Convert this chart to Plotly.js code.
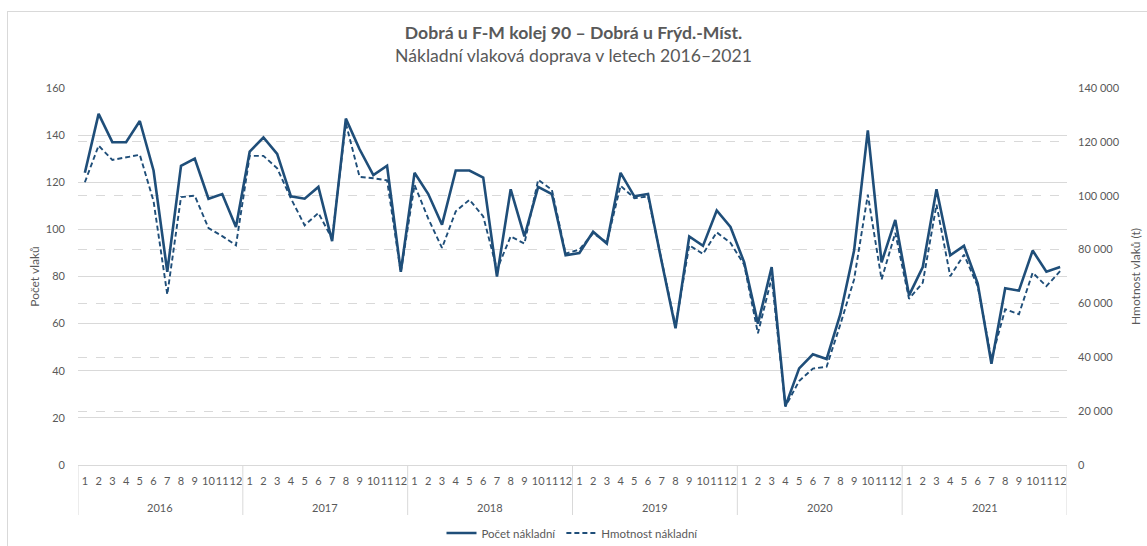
<!DOCTYPE html>
<html>
<head>
<meta charset="utf-8">
<script src="https://cdn.plot.ly/plotly-3.0.1.min.js"></script>
<style>
  html, body { margin: 0; padding: 0; background: #fff; }
  #wrap { position: relative; width: 1147px; height: 546px; overflow: hidden; }
  #frame { position: absolute; left: 7px; top: 11px; width: 1160px; height: 560px; border: 1px solid #d9d9d9; box-sizing: border-box; pointer-events: none; }
  #chart { position: absolute; left: 0; top: 0; width: 1147px; height: 546px; }
</style>
</head>
<body>
<div id="wrap">
  <div id="chart"></div>
  <div id="frame"></div>
</div>
<script>
const years = ["2016", "2017", "2018", "2019", "2020", "2021"];
const months = ["1","2","3","4","5","6","7","8","9","10","11","12"];

// Počet nákladní (left axis)
const pocet2016 = [124, 149, 137, 137, 146, 125, 82, 127, 130, 113, 115, 101];
const pocet2017 = [133, 139, 132, 114, 113, 118, 95, 147, 134, 123, 127, 82];
const pocet2018 = [124, 115, 102, 125, 125, 122, 80, 117, 97, 118, 115, 89];
const pocet2019 = [90, 99, 94, 124, 114, 115, 86, 58, 97, 93, 108, 101];
const pocet2020 = [86, 60, 84, 25, 41, 47, 45, 64, 91, 142, 86, 104];
const pocet2021 = [72, 84, 117, 89, 93, 77, 43, 75, 74, 91, 82, 84];

// Hmotnost nákladní (right axis, t)
const hmot2016 = [105000, 118600, 113300, 114300, 115200, 98000, 63300, 99500, 100000, 88000, 85000, 81600];
const hmot2017 = [114800, 114800, 110200, 99000, 89000, 93600, 84000, 126900, 107000, 106500, 105700, 71600];
const hmot2018 = [104000, 91500, 80600, 94200, 98500, 92300, 72600, 84900, 82200, 105900, 102200, 78500];
const hmot2019 = [80000, 86000, 82700, 103700, 99100, 99700, 75000, 51600, 81600, 78400, 86400, 82500];
const hmot2020 = [74400, 48900, 69500, 21700, 31200, 35800, 36500, 52200, 68900, 100400, 68900, 86200];
const hmot2021 = [61700, 67700, 96700, 70100, 78100, 66400, 39300, 57800, 56000, 71400, 66400, 72000];

const pocet = [].concat(pocet2016, pocet2017, pocet2018, pocet2019, pocet2020, pocet2021);
const hmotnost = [].concat(hmot2016, hmot2017, hmot2018, hmot2019, hmot2020, hmot2021);

// category keys (year-month) and their month tick labels
const xCat = [], xMonth = [];
years.forEach(y => months.forEach(m => { xCat.push(y + "-" + m); xMonth.push(m); }));
const nMonths = months.length;

const lineColor = "#1f4e79";
const textColor = "#595959";
const gridColor = "#d9d9d9";
const font = "Lato, 'Open Sans', sans-serif";

const traces = [
  {
    type: "scatter", mode: "lines", name: "Počet nákladní",
    x: xCat, y: pocet,
    line: { color: lineColor, width: 2.6 },
    yaxis: "y", hoverinfo: "skip"
  },
  {
    type: "scatter", mode: "lines", name: "Hmotnost nákladní",
    x: xCat, y: hmotnost,
    line: { color: lineColor, width: 1.9, dash: "5px,3px" },
    yaxis: "y2", hoverinfo: "skip"
  }
];

// year group labels and the dividers of the category box
const plotH = 546 - 88 - 81;
const annotations = years.map((y, i) => ({
  xref: "x", yref: "paper",
  x: i * nMonths + (nMonths - 1) / 2, y: -42 / plotH,
  text: y, showarrow: false, xanchor: "center", yanchor: "middle",
  font: { family: font, size: 11, color: textColor }
}));
const shapes = [];
for (let i = 0; i <= years.length; i++) {
  shapes.push({
    type: "line", xref: "x", yref: "paper",
    x0: i * nMonths - 0.5, x1: i * nMonths - 0.5, y0: 0, y1: -50 / plotH,
    line: { color: gridColor, width: 1 }
  });
}

const layout = {
  width: 1147, height: 546,
  paper_bgcolor: "rgba(0,0,0,0)", plot_bgcolor: "rgba(0,0,0,0)",
  separators: ", ",
  font: { family: font, color: textColor, size: 11 },
  margin: { l: 78, r: 80, t: 88, b: 81 },
  title: {
    text: "<b>Dobrá u F-M kolej 90 – Dobrá u Frýd.-Míst.</b><br>Nákladní vlaková doprava v letech 2016–2021",
    font: { family: font, size: 17.6, color: textColor },
    x: 0.5, xanchor: "center", y: 0.928, yanchor: "top"
  },
  showlegend: true,
  legend: {
    orientation: "h", x: 0.5, xanchor: "center",
    yref: "container", y: 1 - 533 / 546, yanchor: "middle",
    font: { family: font, size: 11.5, color: textColor }
  },
  annotations: annotations,
  shapes: shapes,
  xaxis: {
    type: "category", range: [-0.5, xCat.length - 0.5],
    tickmode: "array", tickvals: xCat, ticktext: xMonth,
    tickangle: 0, automargin: false,
    showline: true, linecolor: gridColor, linewidth: 1,
    ticks: "", showgrid: false, zeroline: false,
    ticklabelstandoff: 6,
    tickfont: { family: font, size: 11, color: textColor }
  },
  yaxis: {
    range: [0, 160], dtick: 20, tick0: 0, automargin: false,
    showgrid: true, gridcolor: gridColor, gridwidth: 1,
    zeroline: false, showline: false, ticks: "",
    ticklabelstandoff: 12,
    tickfont: { family: font, size: 11, color: textColor },
    title: { text: "Počet vlaků", font: { family: font, size: 12, color: textColor }, standoff: 3 }
  },
  yaxis2: {
    overlaying: "y", side: "right", automargin: false,
    range: [0, 140000], dtick: 20000, tick0: 0,
    tickformat: ",d",
    showgrid: true, gridcolor: gridColor, gridwidth: 1, griddash: "dash",
    zeroline: false, showline: false, ticks: "",
    ticklabelstandoff: 10,
    tickfont: { family: font, size: 11, color: textColor },
    title: { text: "Hmotnost vlaků (t)", font: { family: font, size: 12, color: textColor }, standoff: 12 }
  }
};

Plotly.newPlot("chart", traces, layout, { displayModeBar: false, staticPlot: true });
</script>
</body>
</html>
